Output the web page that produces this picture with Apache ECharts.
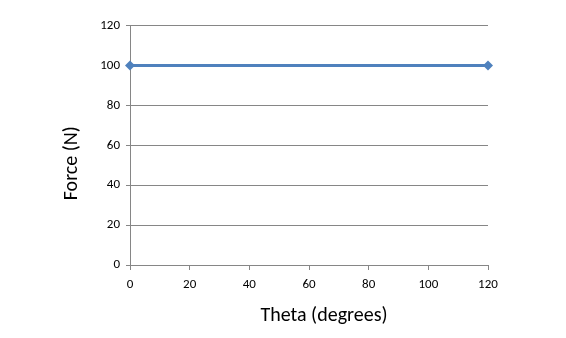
<!DOCTYPE html>
<html><head><meta charset="utf-8">
<script src="https://cdn.jsdelivr.net/npm/echarts@6/dist/echarts.min.js"></script>
<style>html,body{margin:0;padding:0;background:#fff}#c{width:566px;height:338px}</style>
</head><body><div id="c"></div>
<script>
const thetaValues = [0, 120];
const forceValues = [100, 100];
const xTitle = 'Theta (degrees)';
const yTitle = 'Force (N)';
const chart = echarts.init(document.getElementById('c'), null, {renderer:'canvas'});
const font = 'Carlito, "Open Sans", "DejaVu Sans", sans-serif';
chart.setOption({
  animation:false,
  grid:{left:130, right:78, top:25.5, bottom:73},
  xAxis:{type:'value', min:0, max:120, interval:20,
    name:xTitle, nameLocation:'middle', nameGap:41,
    nameTextStyle:{fontSize:20, color:'#000', fontFamily:font, padding:[0,0,0,30]},
    axisLine:{lineStyle:{color:'#868686'}},
    axisTick:{show:true, length:5, lineStyle:{color:'#868686'}},
    axisLabel:{fontSize:13, color:'#000', margin:13, fontFamily:font},
    splitLine:{show:false}},
  yAxis:{type:'value', min:0, max:120, interval:20,
    name:yTitle, nameLocation:'middle', nameGap:48,
    nameTextStyle:{fontSize:20, color:'#000', fontFamily:font, padding:[0,36,0,0]},
    axisLine:{show:true, lineStyle:{color:'#868686'}},
    axisTick:{show:true, length:4, lineStyle:{color:'#868686'}},
    axisLabel:{fontSize:13, color:'#000', margin:10, fontFamily:font},
    splitLine:{show:true, lineStyle:{color:'#868686', width:1}}},
  series:[{type:'line', data:thetaValues.map((t,i)=>[t, forceValues[i]]),
    symbol:'diamond', symbolSize:10, showSymbol:true,
    lineStyle:{color:'#4F81BD', width:3}, itemStyle:{color:'#4F81BD'}}]
});
</script></body></html>
